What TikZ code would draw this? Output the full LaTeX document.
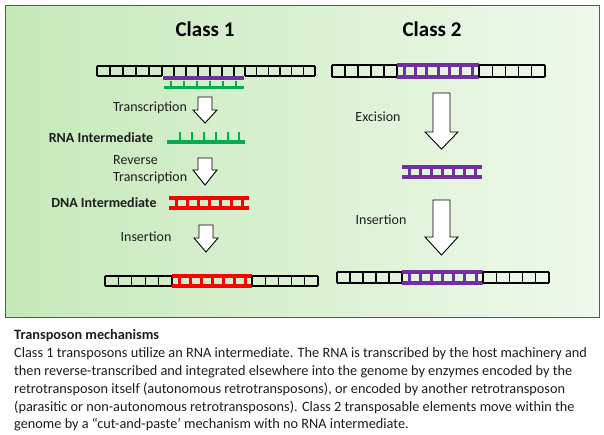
\documentclass[tikz,border=0pt]{standalone}
\usepackage{fontspec}
\setmainfont{Carlito}
\definecolor{bgleft}{HTML}{C6E9B9}
\definecolor{bgright}{HTML}{EFF9EC}
\definecolor{tpurple}{HTML}{7030A0}
\definecolor{tgreen}{HTML}{00B050}
\definecolor{tred}{HTML}{FF0000}
\definecolor{txt}{HTML}{1E1E1E}
\tikzset{
  brail/.style={line width=1.6pt, black},
  brung/.style={line width=1.1pt, black},
  crail/.style={line width=3.6pt},
  crung/.style={line width=3pt},
  blockarrow/.style={draw=black, fill=white, line width=0.9pt, line join=miter},
  classtitle/.style={font=\bfseries\fontsize{21}{23}\selectfont, text=black, inner sep=0},
  lbl/.style={font=\fontsize{14}{17}\selectfont, text=txt, inner sep=0, align=left},
  blbl/.style={font=\bfseries\fontsize{14}{17}\selectfont, text=txt, inner sep=0},
  bodytext/.style={font=\fontsize{14.3}{18}\selectfont, text=txt, inner sep=0, anchor=base west},
  bodyhead/.style={font=\bfseries\fontsize{14.3}{18}\selectfont, text=txt, inner sep=0, anchor=base west},
}
% black double-stranded ladder: x1, x2, ytop, ybot
\newcommand\blackladder[4]{%
  \draw[brail] (#1,#3) -- (#2,#3) (#1,#4) -- (#2,#4);
  \pgfmathtruncatemacro\nrg{round((#2-#1)/12.5)}
  \pgfmathsetmacro\stp{(#2-#1)/\nrg}
  \foreach \i in {0,...,\nrg} \draw[brung] ({#1+\i*\stp},#3) -- ({#1+\i*\stp},#4);
}
% coloured ladder: colour, x1, x2, ytop, ybot, number of rungs
\newcommand\colladder[6]{%
  \draw[crail,#1] (#2,#4) -- (#3,#4) (#2,#5) -- (#3,#5);
  \pgfmathsetmacro\stp{(#3-#2-14)/(#6-1)}
  \pgfmathtruncatemacro\nrl{#6-1}
  \foreach \i in {0,...,\nrl} \draw[crung,#1] ({#2+7+\i*\stp},#4) -- ({#2+7+\i*\stp},#5);
}
% block arrow: cx, ytop, yhead, ytip, shaft half-width, head half-width
\newcommand\blockarr[6]{%
  \draw[blockarrow] (#1-#5,#2) -- (#1+#5,#2) -- (#1+#5,#3) -- (#1+#6,#3) -- (#1,#4)
    -- (#1-#6,#3) -- (#1-#5,#3) -- cycle;
}
\begin{document}
\begin{tikzpicture}[x=1pt,y=-1pt]
\useasboundingbox (0,0) rectangle (604,434);
\fill[white] (0,0) rectangle (604,434);
\shade[left color=bgleft, right color=bgright] (5,5) rectangle (599,317);
\draw[black!65, line width=1pt] (5,5) rectangle (599,317);

% titles
\node[classtitle] (c1) at (205,29) {Class 1};
\node[classtitle] (c2) at (432,29) {Class 2};

% ---------- Class 1 ----------
% genome with transcription bubble
\blackladder{97}{162}{66}{76}
\blackladder{245}{315}{66}{76}
\draw[brail] (162,66) -- (245,66);
\foreach \x in {174,186,198,210,222,234} \draw[brung] (\x,66) -- (\x,77);
\draw[crail,tpurple] (163,78) -- (244,78);
\draw[line width=3.2pt,tgreen] (164,87.5) -- (244,87.5);
\foreach \x in {171,184,197,210,223,236} \draw[line width=2.6pt,tgreen] (\x,80.5) -- (\x,87.5);

\blockarr{205}{97}{110}{123}{7}{12}
\node[lbl] (t1) at (150,108) {Transcription};

\node[blbl] (rna) at (101,138) {RNA Intermediate};
\draw[line width=3.2pt,tgreen] (167,142) -- (245,142);
\foreach \x in {180,192,204,216,228,239} \draw[line width=2.6pt,tgreen] (\x,132) -- (\x,142);

\blockarr{205}{158}{170}{185}{7}{12}
\node[lbl, anchor=west] (rt) at (113,169.5) {Reverse\\Transcription};

\node[blbl] (dna) at (104,203) {DNA Intermediate};
\colladder{tred}{169}{249}{198}{208}{7}

\blockarr{206}{225}{238}{252}{7}{12}
\node[lbl] (ins1) at (146,237) {Insertion};

\blackladder{105}{172}{276}{286}
\colladder{tred}{172}{252}{276}{286}{7}
\blackladder{252}{318}{276}{286}

% ---------- Class 2 ----------
\blackladder{332}{397}{65}{77}
\colladder{tpurple}{397}{479}{65}{77}{7}
\blackladder{479}{545}{65}{77}

\blockarr{441.5}{93}{132}{149}{8.5}{16.5}
\node[lbl] (exc) at (378,117) {Excision};

\colladder{tpurple}{402}{482}{167}{177}{7}

\blockarr{441.5}{200}{237}{255}{8.5}{16.5}
\node[lbl] (ins2) at (381,220) {Insertion};

\blackladder{337}{402}{272}{283}
\colladder{tpurple}{402}{483}{272}{283}{7}
\blackladder{483}{549}{272}{283}

% ---------- caption ----------
\node[bodyhead] (cap) at (14,339) {Transposon mechanisms};
\node[bodytext] (l1) at (14,357) {Class 1 transposons utilize an RNA intermediate. The RNA is transcribed by the host machinery and};
\node[bodytext] (l2) at (14,375) {then reverse-transcribed and integrated elsewhere into the genome by enzymes encoded by the};
\node[bodytext] (l3) at (14,393) {retrotransposon itself (autonomous retrotransposons), or encoded by another retrotransposon};
\node[bodytext] (l4) at (14,411) {(parasitic or non-autonomous retrotransposons). Class 2 transposable elements move within the};
\node[bodytext] (l5) at (14,428) {genome by a “cut-and-paste’ mechanism with no RNA intermediate.};
\end{tikzpicture}
\end{document}
